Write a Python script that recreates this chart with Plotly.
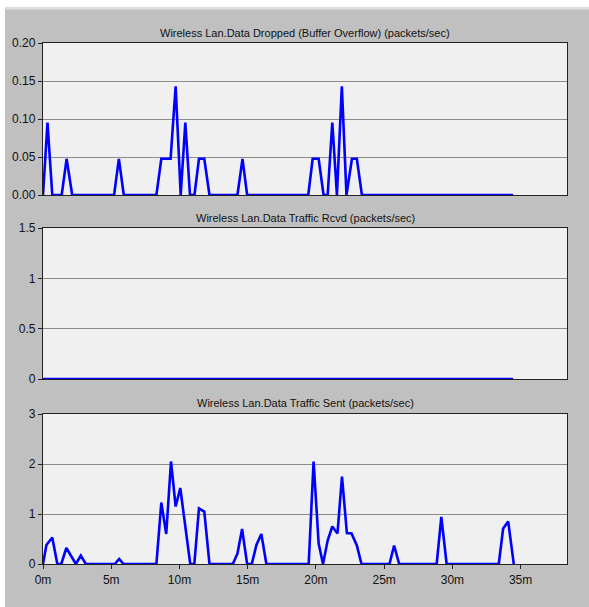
import plotly.graph_objects as go

W, H = 589, 607

# ---- data (time in minutes) ----
dropped_t = [0.0, 0.33, 0.68, 1.37, 1.73, 2.14, 5.21, 5.56, 5.92, 8.31, 8.67, 9.35, 9.72,
             10.09, 10.43, 10.77, 11.10, 11.43, 11.82, 12.20, 14.25, 14.62, 14.96,
             19.44, 19.76, 20.20, 20.56, 20.86, 21.20, 21.54, 21.90, 22.24, 22.64,
             23.00, 23.37, 34.45]
dropped_v = [0.0, 0.0952, 0.0, 0.0, 0.0476, 0.0, 0.0, 0.0476, 0.0, 0.0, 0.0476, 0.0476, 0.1429,
             0.0, 0.0952, 0.0, 0.0, 0.0476, 0.0476, 0.0, 0.0, 0.0476, 0.0,
             0.0, 0.0476, 0.0476, 0.0, 0.0, 0.0952, 0.0, 0.1429, 0.0, 0.0476,
             0.0476, 0.0, 0.0]

rcvd_t = [0.0, 34.45]
rcvd_v = [0.0, 0.0]

sent_t = [0.0, 0.25, 0.68, 1.05, 1.34, 1.71, 2.41, 2.77, 3.14, 5.26, 5.58, 5.90, 8.31, 8.67,
          9.03, 9.38, 9.72, 10.06, 10.79, 11.09, 11.43, 11.82, 12.20, 13.91, 14.25, 14.59,
          14.96, 15.30, 15.64, 16.00, 16.37, 19.47, 19.83, 20.20, 20.52, 20.86, 21.20, 21.58,
          21.91, 22.27, 22.61, 23.00, 23.34, 25.39, 25.73, 26.10, 28.85, 29.19, 29.58, 33.40,
          33.72, 34.09, 34.50]
sent_v = [0.0, 0.38, 0.53, 0.0, 0.0, 0.32, 0.0, 0.17, 0.0, 0.0, 0.10, 0.0, 0.0, 1.23,
          0.60, 2.05, 1.15, 1.52, 0.0, 0.0, 1.11, 1.05, 0.0, 0.0, 0.21, 0.70,
          0.0, 0.0, 0.38, 0.60, 0.0, 0.0, 2.05, 0.41, 0.0, 0.47, 0.75, 0.61,
          1.75, 0.62, 0.61, 0.37, 0.0, 0.0, 0.37, 0.0, 0.0, 0.94, 0.0, 0.0,
          0.71, 0.85, 0.0]

titles = ["Wireless Lan.Data Dropped (Buffer Overflow) (packets/sec)",
          "Wireless Lan.Data Traffic Rcvd (packets/sec)",
          "Wireless Lan.Data Traffic Sent (packets/sec)"]

x_ticks = [0, 5, 10, 15, 20, 25, 30, 35]
x_labels = ["0m", "5m", "10m", "15m", "20m", "25m", "30m", "35m"]

y_ticks_1 = [0.0, 0.05, 0.10, 0.15, 0.20]
y_labels_1 = ["0.00", "0.05", "0.10", "0.15", "0.20"]
y_ticks_2 = [0, 0.5, 1, 1.5]
y_labels_2 = ["0", "0.5", "1", "1.5"]
y_ticks_3 = [0, 1, 2, 3]
y_labels_3 = ["0", "1", "2", "3"]

# ---- layout geometry (pixels) ----
x_left, x_right = 43, 567
panels = [(43, 195), (228, 379), (414, 564)]  # (top, bottom)

def ydom(top, bottom):
    return [1 - bottom / H, 1 - top / H]

FONT = "Liberation Sans, Arial, sans-serif"
BLUE = "#0000FF"

fig = go.Figure()
series = [(dropped_t, dropped_v), (rcvd_t, rcvd_v), (sent_t, sent_v)]
for i, (t, v) in enumerate(series):
    fig.add_trace(go.Scatter(x=t, y=v, mode="lines",
                             line=dict(color=BLUE, width=2.6),
                             xaxis="x" if i == 0 else f"x{i+1}",
                             yaxis="y" if i == 0 else f"y{i+1}",
                             hoverinfo="skip", showlegend=False, cliponaxis=True))

yspec = [(y_ticks_1, y_labels_1, [0, 0.2]),
         (y_ticks_2, y_labels_2, [0, 1.5]),
         (y_ticks_3, y_labels_3, [0, 3])]

layout = dict(width=W, height=H,
              margin=dict(l=0, r=0, t=0, b=0, pad=0, autoexpand=False),
              paper_bgcolor="#C0C0C0", plot_bgcolor="#F0F0F0",
              font=dict(family=FONT, size=12, color="#111111"),
              showlegend=False)

for i, ((top, bottom), (yt, yl, yr)) in enumerate(zip(panels, yspec)):
    xs = "xaxis" if i == 0 else f"xaxis{i+1}"
    ys = "yaxis" if i == 0 else f"yaxis{i+1}"
    xa = "x" if i == 0 else f"x{i+1}"
    ya = "y" if i == 0 else f"y{i+1}"
    layout[xs] = dict(domain=[x_left / W, x_right / W], range=[0, 38.4],
                      anchor=ya, showgrid=False, zeroline=False, automargin=False,
                      showline=True, linecolor="#222222", linewidth=1.3, mirror=True,
                      tickvals=x_ticks, ticktext=x_labels,
                      showticklabels=(i == 2),
                      ticks="outside" if i == 2 else "", ticklen=4, tickcolor="#222222",
                      tickfont=dict(family=FONT, size=12, color="#111111"))
    layout[ys] = dict(domain=ydom(top, bottom), range=yr, anchor=xa, automargin=False,
                      tickvals=yt, ticktext=yl, showgrid=True, gridcolor="#8C8C8C",
                      gridwidth=1, zeroline=False,
                      showline=True, linecolor="#222222", linewidth=1.3, mirror=True,
                      ticks="outside", ticklen=4, tickcolor="#222222",
                      tickfont=dict(family=FONT, size=12, color="#111111"))

fig.update_layout(**layout)

# panel titles
title_y = [33, 218, 403]
for txt, ty in zip(titles, title_y):
    fig.add_annotation(text=txt, xref="paper", yref="paper",
                       x=(x_left + x_right) / 2 / W, y=1 - ty / H,
                       xanchor="center", yanchor="middle", showarrow=False,
                       font=dict(family=FONT, size=11, color="#111111"))

# white outer strips and light border line
fig.add_shape(type="rect", xref="paper", yref="paper", x0=0, x1=1,
              y0=1 - 7.5 / H, y1=1, fillcolor="white", line_width=0, layer="above")
fig.add_shape(type="rect", xref="paper", yref="paper", x0=0, x1=5 / W,
              y0=0, y1=1, fillcolor="white", line_width=0, layer="above")
fig.add_shape(type="rect", xref="paper", yref="paper", x0=5 / W, x1=1,
              y0=1 - 9.5 / H, y1=1 - 7.5 / H, fillcolor="#DCDCDC", line_width=0, layer="above")

fig.write_html("out.html")
